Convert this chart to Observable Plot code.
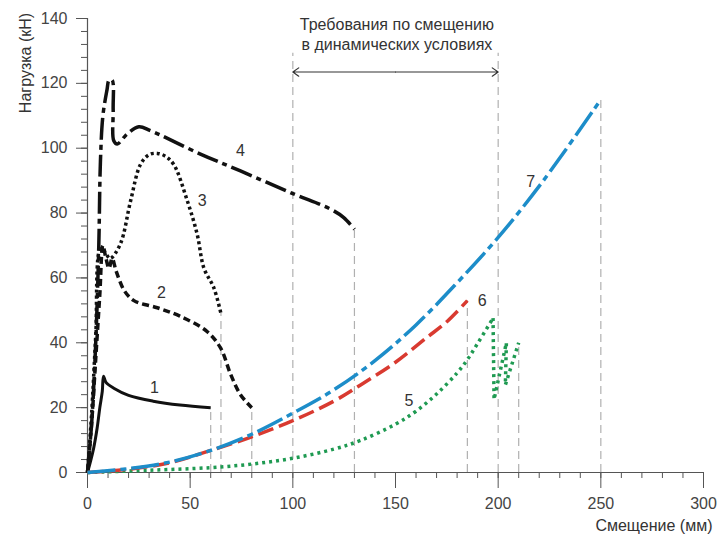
<!DOCTYPE html>
<html><head><meta charset="utf-8">
<script src="https://cdn.jsdelivr.net/npm/d3@7"></script>
<script src="https://cdn.jsdelivr.net/npm/@observablehq/plot@0.6"></script>
<style>body{margin:0;background:#fff}</style>
</head><body><div id="chart"></div>
<script>
// Tick values
const xTicks = [0, 50, 100, 150, 200, 250, 300];
const yTicks = [0, 20, 40, 60, 80, 100, 120, 140];
const xMinorTicks = [0,10,20,30,40,50,60,70,80,90,100,110,120,130,140,150,160,170,180,190,200,210,220,230,240,250,260,270,280,290,300];
const yMinorTicks = [0,4,8,12,16,20,24,28,32,36,40,44,48,52,56,60,64,68,72,76,80,84,88,92,96,100,104,108,112,116,120,124,128,132,136,140];

// Curves (displacement mm, load kN)
const c1x = [0, 1.5, 3, 4.7, 6, 7.2, 7.8, 9, 12.8, 20, 32, 45, 60];
const c1y = [0, 3.5, 7.5, 13.7, 20, 25, 29.7, 27.8, 26, 23.8, 22, 20.8, 20];

const c2x = [0, 2, 4, 6, 7.5, 9, 10.5, 12, 14, 18, 22.6, 34, 45, 58, 64.8, 69.7, 74.5, 80];
const c2y = [0, 15, 35, 55, 70, 66, 63, 66, 62, 56, 53, 50.8, 48.2, 43.6, 38.4, 30.3, 24, 20];

const c3x = [0, 2, 4, 6.3, 8.5, 11, 16, 21, 25.8, 30, 34, 38, 42, 48.6, 53.4, 56.7, 61.5, 65];
const c3y = [0, 18, 42, 69, 68, 66, 70.5, 83.8, 95, 98, 98.4, 97.5, 95, 83.8, 73.5, 63, 57, 49];

const c4x = [0, 2, 4, 5.5, 6.3, 7.5, 9.5, 10.5, 12, 12.5, 12.8, 14.5, 19.3, 25, 30.7, 55, 74.5, 100, 118.4, 124.8, 130];
const c4y = [0, 15, 40, 70, 96, 110, 118, 121, 121, 112, 102.3, 101.3, 104.4, 106.6, 105.4, 98.2, 93, 86, 81.2, 78.6, 75];

const c5x = [0, 30, 60, 80, 100, 120, 133, 150, 160, 170, 180, 185, 190, 197.5];
const c5y = [0, 0.7, 1.5, 2.6, 4.4, 7.2, 9.9, 14.9, 18.9, 24.2, 30.7, 34.8, 39.8, 47.6];
const c5zigX = [197.5, 198, 204, 203.5, 210];
const c5zigY = [47.6, 22.5, 40, 27, 40];

const c6x = [0, 20, 40, 60, 80, 100, 120, 133, 150, 165, 175, 185];
const c6y = [0, 1, 3, 6.8, 11, 16, 22, 27, 34, 41.5, 46.5, 53];

const c7x = [0, 20, 40, 60, 80, 100, 120, 140, 160, 180, 200, 222, 250];
const c7y = [0, 1.2, 3.2, 6.8, 11.8, 18.3, 25.5, 34.5, 45.5, 58.5, 72.5, 90, 115];

// Curve number labels
const labelText = ["1", "2", "3", "4", "5", "6", "7"];
const labelX = [32.6, 36, 55.9, 74.5, 156.5, 192.2, 215.8];
const labelY = [26.2, 55.5, 83.9, 99.1, 22.1, 53, 89.5];

// Reference (grey dashed) verticals
const refX = [60, 65, 80, 100, 130, 185, 200, 210, 250];
const refTop = [20, 49, 20, 129.3, 75, 53, 129.3, 40, 115];

// Annotation
const noteLines = ["Требования по смещению", "в динамических условиях"];
const noteY = [137.9, 131.8];
const noteX = 150.7;
const rangeFrom = 100, rangeTo = 200, rangeY = 123.5;

const xLabel = "Смещение (мм)";
const yLabel = "Нагрузка (кН)";

const pts = (xs, ys) => xs.map((x, i) => ({x, y: ys[i]}));

const styles = [
  {d: pts(c1x, c1y), stroke: "#111", w: 3, dash: null},
  {d: pts(c2x, c2y), stroke: "#111", w: 3.5, dash: "7,4"},
  {d: pts(c3x, c3y), stroke: "#111", w: 3.5, dash: "3,3"},
  {d: pts(c4x, c4y), stroke: "#111", w: 3.5, dash: "22,5,5,5"},
  {d: pts(c5x, c5y), stroke: "#1f9a52", w: 3.5, dash: "3,4"},
  {d: pts(c6x, c6y), stroke: "#d93a30", w: 3.5, dash: "16,6"},
  {d: pts(c7x, c7y), stroke: "#1d8dc9", w: 3.5, dash: "28,5,6,5"}
];

const refs = refX.map((x, i) => ({x, top: refTop[i]}));
const labels = labelText.map((t, i) => ({t, x: labelX[i], y: labelY[i]}));
const notes = noteLines.map((t, i) => ({t, y: noteY[i]}));

const marks = [
  Plot.ruleX(refs, {x: "x", y1: 0, y2: "top", stroke: "#b0b0b0", strokeWidth: 1.2, strokeDasharray: "8,5"}),
  Plot.axisX(xMinorTicks, {tickSize: 6, text: null, label: null, stroke: "#555"}),
  Plot.axisX(xTicks, {tickSize: 16, tickPadding: 9, label: null, stroke: "#555", fill: "#444", fontSize: 16}),
  Plot.axisY(yMinorTicks, {tickSize: 6, text: null, label: null, stroke: "#555"}),
  Plot.axisY(yTicks, {tickSize: 11, tickPadding: 9, label: null, stroke: "#555", fill: "#444", fontSize: 16}),
  Plot.ruleY([0], {stroke: "#555", strokeWidth: 1.2}),
  Plot.ruleX([0], {stroke: "#555", strokeWidth: 1.2}),
];
for (const s of styles) {
  marks.push(Plot.line(s.d, {x: "x", y: "y", stroke: s.stroke, strokeWidth: s.w,
    strokeDasharray: s.dash, curve: "catmull-rom", strokeLinecap: "butt", strokeLinejoin: "round"}));
}
marks.push(Plot.line(pts(c5zigX, c5zigY), {x: "x", y: "y", stroke: "#1f9a52", strokeWidth: 3.5, strokeDasharray: "3,4", strokeLinecap: "butt"}));
marks.push(
  Plot.text(labels, {x: "x", y: "y", text: "t", fill: "#333", fontSize: 16}),
  Plot.text(notes, {x: noteX, y: "y", text: "t", fill: "#333", fontSize: 16}),
  Plot.arrow([{a: (rangeFrom + rangeTo) / 2, b: rangeFrom}, {a: (rangeFrom + rangeTo) / 2, b: rangeTo}],
    {x1: "a", x2: "b", y1: rangeY, y2: rangeY, stroke: "#333", strokeWidth: 1.2, headLength: 9, headAngle: 70}),
  Plot.text([yLabel], {frameAnchor: "top-left", dx: -68, dy: 44.5, rotate: -90, textAnchor: "middle", fill: "#333", fontSize: 16}),
  Plot.text([xLabel], {frameAnchor: "bottom-right", dx: 9, dy: 58, textAnchor: "end", fill: "#333", fontSize: 16})
);

const chart = Plot.plot({
  width: 719, height: 542,
  marginLeft: 87, marginRight: 16, marginTop: 18, marginBottom: 70,
  x: {domain: [0, 300]},
  y: {domain: [0, 140]},
  style: {fontFamily: "'Liberation Sans', Arial, sans-serif", fontSize: "16px", background: "#fff", color: "#333"},
  marks
});
document.getElementById("chart").appendChild(chart);
</script>
</body></html>
